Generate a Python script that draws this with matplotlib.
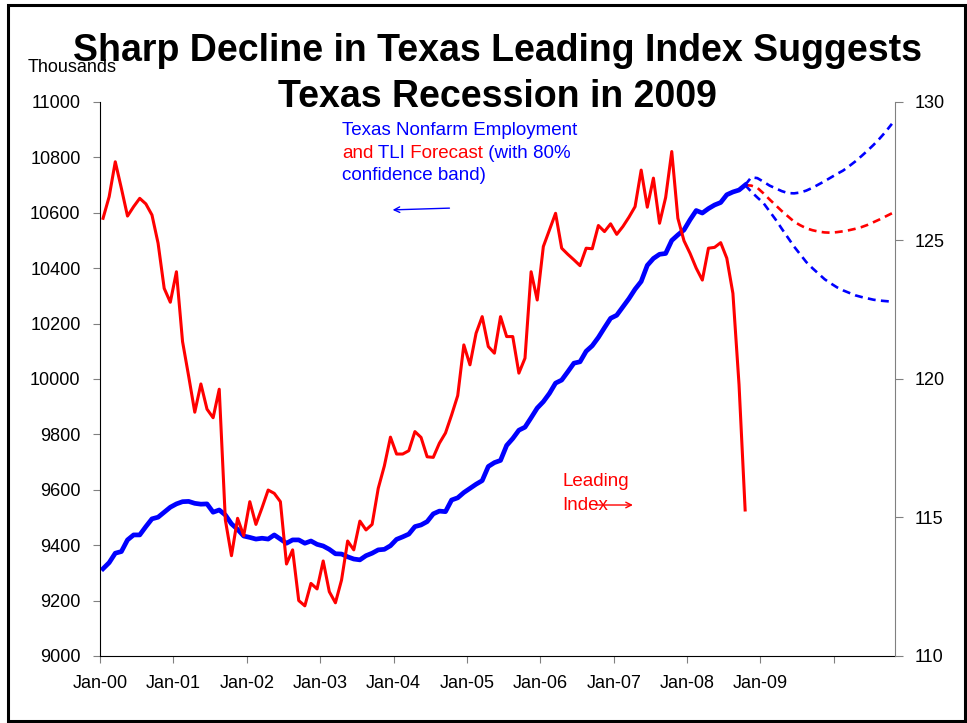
# Texas leading index vs nonfarm employment, with forecast band
import numpy as np
import matplotlib
matplotlib.use("Agg")
from matplotlib import pyplot as plt
from matplotlib.patches import Rectangle

plt.rcParams['font.family'] = ['Liberation Sans', 'DejaVu Sans']

tick_labels = ['Jan-00', 'Jan-01', 'Jan-02', 'Jan-03', 'Jan-04',
               'Jan-05', 'Jan-06', 'Jan-07', 'Jan-08', 'Jan-09', '']

# Texas nonfarm employment, thousands, monthly Jan-00 .. Oct-08
emp = [9315, 9337, 9371, 9377, 9419, 9437, 9437, 9467, 9495, 9501, 9519, 9537,
       9549, 9557, 9558, 9551, 9548, 9549, 9519, 9527, 9509, 9477, 9457, 9433,
       9428, 9422, 9425, 9422, 9437, 9422, 9407, 9419, 9419, 9407, 9415, 9403,
       9397, 9385, 9369, 9368, 9358, 9350, 9347, 9362, 9371, 9383, 9385, 9398,
       9421, 9430, 9440, 9467, 9473, 9485, 9513, 9523, 9521, 9563, 9571, 9590,
       9605, 9620, 9633, 9684, 9698, 9706, 9760, 9785, 9815, 9826, 9860, 9895,
       9918, 9948, 9985, 9996, 10026, 10057, 10062, 10100, 10120, 10150, 10185, 10219,
       10230, 10260, 10290, 10324, 10352, 10410, 10435, 10450, 10453, 10500, 10520, 10538,
       10575, 10608, 10599, 10615, 10628, 10637, 10665, 10675, 10682, 10700]

# Texas Leading Index, monthly Jan-00 .. Oct-08
tli = [125.80, 126.58, 127.84, 126.88, 125.88, 126.22, 126.52, 126.32, 125.92, 124.90, 123.27, 122.77,
       123.87, 121.35, 120.10, 118.80, 119.82, 118.91, 118.60, 119.63, 114.91, 113.62, 114.97, 114.34,
       115.57, 114.75, 115.35, 115.99, 115.87, 115.57, 113.32, 113.83, 112.00, 111.81, 112.62, 112.42,
       113.43, 112.32, 111.92, 112.74, 114.15, 113.83, 114.87, 114.55, 114.75, 116.05, 116.86, 117.90,
       117.29, 117.29, 117.41, 118.10, 117.89, 117.19, 117.17, 117.68, 118.05, 118.70, 119.40, 121.23,
       120.51, 121.65, 122.25, 121.17, 120.93, 122.25, 121.53, 121.53, 120.21, 120.75, 123.87, 122.85,
       124.78, 125.38, 125.98, 124.72, 124.50, 124.30, 124.09, 124.72, 124.70, 125.54, 125.32, 125.60,
       125.22, 125.50, 125.84, 126.22, 127.54, 126.20, 127.25, 125.62, 126.55, 128.21, 125.80, 124.99,
       124.53, 124.00, 123.57, 124.72, 124.75, 124.92, 124.36, 123.09, 119.80, 115.27]

# employment forecast Oct-08 .. Oct-10 with 80% band
fc_mid = [10700, 10698, 10690, 10670, 10648, 10627, 10606, 10587, 10568, 10555, 10544, 10537, 10532,
          10529, 10528, 10530, 10533, 10537, 10542, 10548, 10556, 10566, 10576, 10587, 10598]
fc_hi = [10700, 10728, 10725, 10712, 10698, 10688, 10678, 10671, 10670, 10673, 10680, 10690, 10702,
         10714, 10727, 10740, 10752, 10768, 10785, 10804, 10824, 10845, 10868, 10893, 10921]
fc_lo = [10700, 10676, 10655, 10635, 10605, 10575, 10542, 10510, 10478, 10450, 10422, 10400, 10380,
         10360, 10345, 10331, 10320, 10311, 10302, 10296, 10291, 10286, 10283, 10281, 10279]

x_hist = np.arange(len(emp)) + 0.5
x_fc = np.arange(len(emp) - 1, len(emp) - 1 + len(fc_mid)) + 0.5

fig = plt.figure(figsize=(9.67, 7.23), dpi=100)
ax = fig.add_axes([0.1034, 0.0927, 0.8221, 0.7663])
ax2 = ax.twinx()

ax.plot(x_fc, fc_hi, color='blue', lw=1.9, ls=(0, (3, 2)))
ax.plot(x_fc, fc_lo, color='blue', lw=1.9, ls=(0, (3, 2)))
ax.plot(x_fc, fc_mid, color='red', lw=1.9, ls=(0, (3, 2)))
ax.plot(x_hist, emp, color='blue', lw=3.4, solid_joinstyle='round')
ax2.plot(x_hist, tli, color='red', lw=2.2)

ax.set_xlim(0, 130)
ax.set_ylim(9000, 11000)
ax2.set_ylim(110, 130)
ax.set_xticks(np.arange(0, 121, 12))
ax.set_xticklabels(tick_labels)
ax.set_yticks(np.arange(9000, 11001, 200))
ax2.set_yticks(np.arange(110, 131, 5))

for a in (ax, ax2):
    a.spines['top'].set_visible(False)
ax.spines['right'].set_visible(False)
ax2.spines['left'].set_visible(False)
ax2.spines['bottom'].set_visible(False)
ax.spines['left'].set_color('black')
ax.spines['bottom'].set_color('black')
ax2.spines['right'].set_color('gray')

ax.tick_params(axis='y', direction='out', length=5, color='gray', labelsize=13, pad=9)
ax.tick_params(axis='x', direction='out', length=5, color='gray', labelsize=13, pad=9)
ax2.tick_params(axis='y', direction='out', length=6, color='gray', labelsize=13, pad=8)

# title and unit label
fig.text(0.5145, 1 - 61 / 723, 'Sharp Decline in Texas Leading Index Suggests',
         ha='center', va='baseline', fontsize=27, fontweight='bold')
fig.text(0.5145, 1 - 107 / 723, 'Texas Recession in 2009',
         ha='center', va='baseline', fontsize=27, fontweight='bold')
fig.text(28 / 967, 1 - 72.5 / 723, 'Thousands', fontsize=13, va='baseline')

# forecast note, mixed colours
fs = 13.5
fig.text(342 / 967, 1 - 135 / 723, 'Texas Nonfarm Employment', color='blue', fontsize=fs, va='baseline')
prev = fig.text(342 / 967, 1 - 157.5 / 723, 'and', color='red', fontsize=fs, va='baseline')
for word, col in [(' TLI', 'blue'), (' Forecast', 'red'), (' (with 80%', 'blue')]:
    prev = ax.annotate(word, xy=(1, 0), xycoords=prev, va='bottom', ha='left',
                       color=col, fontsize=fs)
fig.text(342 / 967, 1 - 180 / 723, 'confidence band)', color='blue', fontsize=fs, va='baseline')
ax.annotate('', xy=(47.4, 10610), xytext=(57.6, 10617),
            arrowprops=dict(arrowstyle='->', color='blue', lw=1))

ax.text(75.6, 9614, 'Leading', color='red', fontsize=fs, va='baseline')
ax.text(75.6, 9527, 'Index', color='red', fontsize=fs, va='baseline')
ax.annotate('', xy=(87.6, 9545), xytext=(80.6, 9545),
            arrowprops=dict(arrowstyle='->', color='red', lw=1))

fig.patches.append(Rectangle((7.5 / 967, 2 / 723), 957.5 / 967, 716 / 723, fill=False,
                             edgecolor='black', lw=2.2, transform=fig.transFigure))

fig.savefig('out.png', dpi=100)
